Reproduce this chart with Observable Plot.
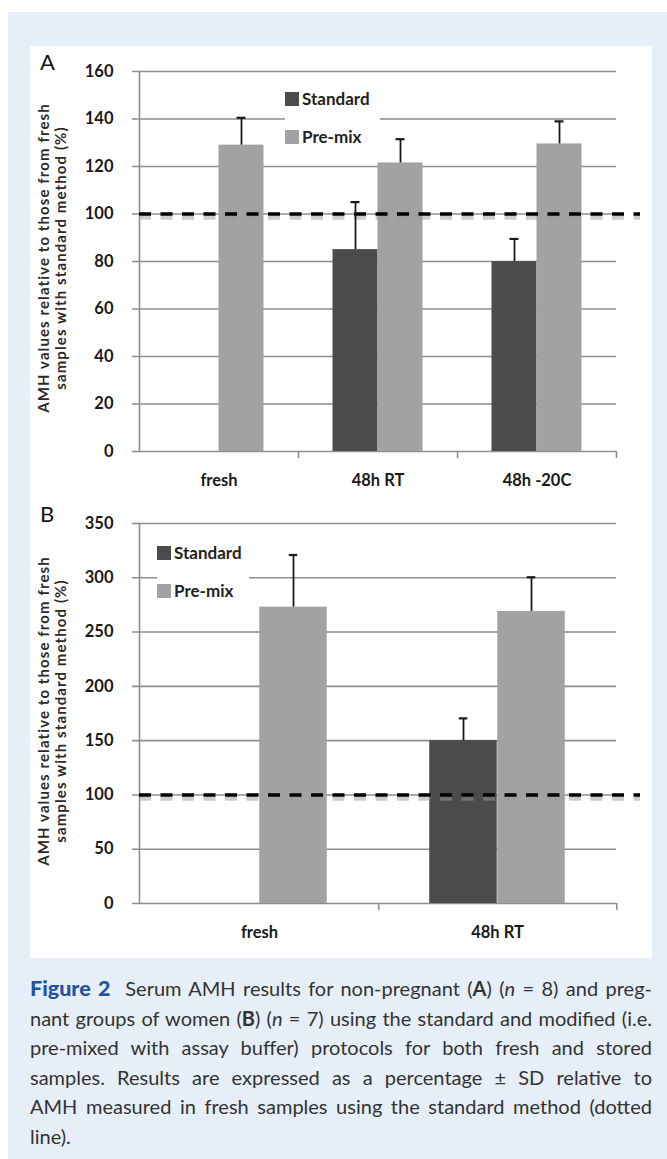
<!DOCTYPE html>
<html><head><meta charset="utf-8">
<script src="https://cdn.jsdelivr.net/npm/d3@7"></script>
<script src="https://cdn.jsdelivr.net/npm/@observablehq/plot@0.6"></script>
<style>
html,body{margin:0;padding:0;background:#fff;}
body{width:667px;height:1159px;position:relative;overflow:hidden;font-family:Lato,"Open Sans",sans-serif;}
#bg{position:absolute;left:8px;top:12px;width:659px;height:1147px;background:#e6eef8;}
#panel{position:absolute;left:30px;top:46px;width:622px;height:912px;background:#fff;}
.chart{position:absolute;left:30px;}
.legend{position:absolute;background:#fff;font-family:Lato,sans-serif;font-weight:700;font-size:17px;color:#222;}
.legend .item{position:absolute;left:0;display:flex;align-items:center;white-space:nowrap;}
.legend .sw{width:14px;height:14px;margin-right:3px;}
.ytitle{position:absolute;width:420px;text-align:center;font-family:Lato,sans-serif;font-weight:700;font-size:15px;letter-spacing:1.1px;line-height:17px;color:#2a2a2a;transform:translate(-50%,-50%) rotate(-90deg);white-space:nowrap;}
.letter{position:absolute;font-family:Lato,sans-serif;font-size:22px;color:#111;line-height:22px;}
#caption{position:absolute;left:30px;top:974px;width:622px;font-family:Lato,sans-serif;font-size:20px;color:#333;}
#caption .ln{height:29.6px;line-height:29.6px;text-align:justify;text-align-last:justify;white-space:nowrap;}
#caption .ln.last{text-align-last:left;}
#caption .fig{color:#1f55a0;font-weight:900;font-size:21.5px;}
</style></head><body>
<div id="bg"></div>
<div id="panel"></div>
<div id="chartA" class="chart" style="top:46px"></div>
<div id="chartB" class="chart" style="top:496px"></div>
<div id="caption"></div>
<script>
// ---------------- data ----------------
const seriesNames = ["Standard", "Pre-mix"];
const seriesColors = ["#4b4b4b", "#a2a2a2"];

const categoriesA = ["fresh", "48h RT", "48h -20C"];
const standardA   = [null, 85, 80];
const standardSdA = [null, 20, 9.5];
const premixA     = [129, 121.5, 129.5];
const premixSdA   = [11.5, 10, 9.5];
const yTicksA = [0, 20, 40, 60, 80, 100, 120, 140, 160];

const categoriesB = ["fresh", "48h RT"];
const standardB   = [null, 150];
const standardSdB = [null, 20.5];
const premixB     = [273, 269];
const premixSdB   = [48, 31.5];
const yTicksB = [0, 50, 100, 150, 200, 250, 300, 350];

const referenceLine = [100];
const yLabelLines = ["AMH values relative to those from fresh", "samples with standard method (%)"];
const panelLetters = ["A", "B"];

// ---------------- helpers ----------------
function rowsFor(cats, std, stdSd, pre, preSd) {
  const rows = [];
  cats.forEach((c, i) => {
    if (std[i] != null) rows.push({cat: c, series: seriesNames[0], value: std[i], sd: stdSd[i]});
    if (pre[i] != null) rows.push({cat: c, series: seriesNames[1], value: pre[i], sd: preSd[i]});
  });
  return rows;
}

function makeChart(o) {
  const {cats, rows, yTicks, width, height, mt, mr, mb, ml, barW} = o;
  const bw = (width - ml - mr) / cats.length;
  const capW = 9;
  const grid = "#8e8e8e";
  const marks = [];
  marks.push(Plot.ruleY(yTicks, {stroke: grid, strokeWidth: 1.6, insetLeft: -7}));
  marks.push(Plot.frame({anchor: "left", stroke: grid, strokeWidth: 1.6}));
  marks.push(Plot.ruleX(cats, {x: d => d, y1: 0, y2: 0, dx: bw / 2, insetBottom: -7, stroke: grid, strokeWidth: 1.6}));
  seriesNames.forEach((s, k) => {
    const data = rows.filter(r => r.series === s);
    marks.push(Plot.barY(data, {
      x: "cat", y: "value", fill: seriesColors[k],
      insetLeft: k === 0 ? bw / 2 - barW : bw / 2,
      insetRight: k === 0 ? bw / 2 : bw / 2 - barW
    }));
  });
  marks.push(Plot.ruleY(referenceLine, {stroke: "#9a9a9a", strokeOpacity: 0.5, strokeWidth: 4.5, dy: 3.5, strokeDasharray: "12,9.5", insetRight: -24}));
  marks.push(Plot.ruleY(referenceLine, {stroke: "#000", strokeWidth: 3.6, strokeDasharray: "12,9.5", insetRight: -24}));
  seriesNames.forEach((s, k) => {
    const data = rows.filter(r => r.series === s);
    const off = k === 0 ? -barW / 2 : barW / 2;
    marks.push(Plot.ruleX(data, {x: "cat", y1: "value", y2: d => d.value + d.sd, dx: off, stroke: "#1a1a1a", strokeWidth: 1.8}));
    marks.push(Plot.tickY(data, {x: "cat", y: d => d.value + d.sd, stroke: "#1a1a1a", strokeWidth: 2.2,
      insetLeft: bw / 2 + off - capW / 2, insetRight: bw / 2 - off - capW / 2}));
  });
  marks.push(Plot.axisY({ticks: yTicks, tickSize: 0, tickPadding: 26, label: null, fill: "#1a1a1a"}));
  marks.push(Plot.axisX({tickSize: 0, tickPadding: 23, label: null, fill: "#1a1a1a"}));
  return Plot.plot({
    width, height,
    marginTop: mt, marginRight: mr, marginBottom: mb, marginLeft: ml,
    style: {fontFamily: "Lato, sans-serif", fontSize: "16.5px", fontWeight: "700", background: "transparent", overflow: "visible"},
    x: {domain: cats, padding: 0, axis: null},
    y: {domain: [yTicks[0], yTicks[yTicks.length - 1]], axis: null},
    marks
  });
}

const rowsA = rowsFor(categoriesA, standardA, standardSdA, premixA, premixSdA);
const rowsB = rowsFor(categoriesB, standardB, standardSdB, premixB, premixSdB);

document.getElementById("chartA").appendChild(makeChart({
  cats: categoriesA, rows: rowsA, yTicks: yTicksA,
  width: 622, height: 450, mt: 25, mr: 36, mb: 45, ml: 109, barW: 45
}));
document.getElementById("chartB").appendChild(makeChart({
  cats: categoriesB, rows: rowsB, yTicks: yTicksB,
  width: 622, height: 459, mt: 27, mr: 36, mb: 52, ml: 109, barW: 68
}));

// ---------------- titles / letters ----------------
function addTitle(cx, cy) {
  const t = document.createElement("div");
  t.className = "ytitle";
  t.style.left = cx + "px"; t.style.top = cy + "px";
  t.innerHTML = yLabelLines.join("<br>");
  document.body.appendChild(t);
}
addTitle(52, 258);
addTitle(52, 711);
function addLetter(ch, x, y) {
  const l = document.createElement("div");
  l.className = "letter"; l.textContent = ch;
  l.style.left = x + "px"; l.style.top = y + "px";
  document.body.appendChild(l);
}
addLetter(panelLetters[0], 40, 51);
addLetter(panelLetters[1], 40, 503);

// ---------------- legends ----------------
function addLegend(left, top, w, h, gap) {
  const lg = document.createElement("div");
  lg.className = "legend";
  Object.assign(lg.style, {left: left + "px", top: top + "px", width: w + "px", height: h + "px"});
  seriesNames.forEach((s, k) => {
    const it = document.createElement("div");
    it.className = "item";
    it.style.top = (6 + k * gap) + "px";
    it.innerHTML = `<span class="sw" style="background:${seriesColors[k]}"></span><span>${s}</span>`;
    lg.appendChild(it);
  });
  document.body.appendChild(lg);
}
addLegend(285, 82, 95, 66, 38);
addLegend(157, 536, 92, 64, 38);

// ---------------- caption ----------------
const captionLines = [
  '<span class="fig">Figure 2</span>&nbsp; Serum AMH results for non-pregnant (<b>A</b>) (<i>n</i> = 8) and preg-',
  'nant groups of women (<b>B</b>) (<i>n</i> = 7) using the standard and modified (i.e.',
  'pre-mixed with assay buffer) protocols for both fresh and stored',
  'samples. Results are expressed as a percentage ± SD relative to',
  'AMH measured in fresh samples using the standard method (dotted',
  'line).'
];
const cap = document.getElementById("caption");
captionLines.forEach((t, i) => {
  const d = document.createElement("div");
  d.className = "ln" + (i === captionLines.length - 1 ? " last" : "");
  d.innerHTML = t;
  cap.appendChild(d);
  let ls = 0;
  while (d.scrollWidth > 622 && ls > -3) { ls -= 0.1; d.style.letterSpacing = ls + "px"; }
  d.style.whiteSpace = "normal";
});
</script>
</body></html>
